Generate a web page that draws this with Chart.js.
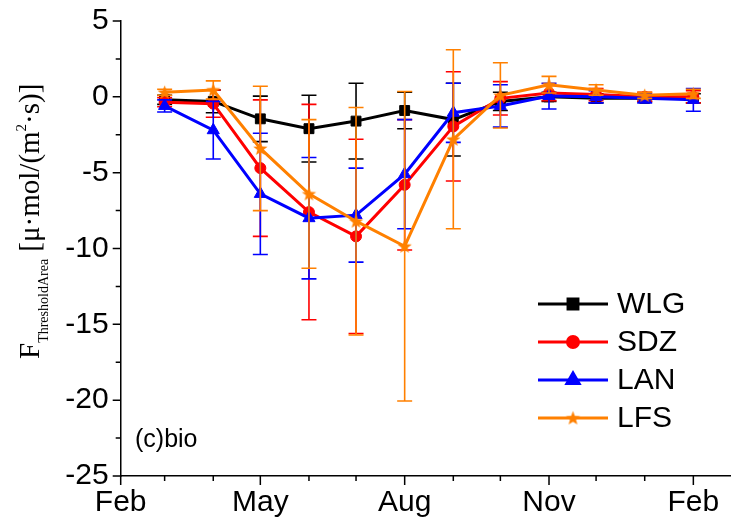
<!DOCTYPE html>
<html>
<head>
<meta charset="utf-8">
<script src="https://cdn.jsdelivr.net/npm/chart.js@4.4.1/dist/chart.umd.min.js"></script>
<style>
  html, body { margin: 0; padding: 0; background: #fff; }
  #wrap { position: relative; width: 731px; height: 527px; }
  #chart { position: absolute; left: 0; top: 0; }
  #ytitle {
    position: absolute; left: 15px; top: 359px;
    transform: rotate(-90deg); transform-origin: left top;
    font-family: 'Liberation Serif', 'DejaVu Serif', serif; font-size: 29px;
    line-height: 1; white-space: nowrap; color: #000;
  }
  #ytitle sub { font-size: 14px; line-height: 0; vertical-align: -9px; }
  #ytitle sup { font-size: 15px; line-height: 0; vertical-align: 13px; }
</style>
</head>
<body>
<div id="wrap">
  <canvas id="chart" width="731" height="527"></canvas>
  <div id="ytitle">F<sub>ThresholdArea</sub> [μ·mol/(m<sup>2</sup>·s)]</div>
</div>
<script>
// days counted from 1 Feb; one point per month start (Mar .. next Feb)
const pointDays = [28, 59, 89, 120, 150, 181, 212, 242, 273, 303, 334, 365];
const tickDays = [0, 28, 59, 89, 120, 150, 181, 212, 242, 273, 303, 334, 365];
const tickLabels = ['Feb', '', '', 'May', '', '', 'Aug', '', '', 'Nov', '', '', 'Feb'];

const wlg = [-0.2, -0.3, -1.45, -2.1, -1.6, -0.9, -1.5, -0.3, 0.0, -0.1, -0.1, -0.1];
const wlgErr = [0.3, 0.75, 1.5, 2.2, 2.5, 1.2, 2.4, 0.6, 0.3, 0.3, 0.2, 0.3];
const sdz = [-0.35, -0.45, -4.7, -7.6, -9.2, -5.8, -1.95, -0.1, 0.25, 0.15, 0.0, 0.0];
const sdzErr = [0.3, 0.9, 4.5, 7.1, 6.4, 4.3, 3.6, 1.1, 0.5, 0.4, 0.3, 0.4];
const lan = [-0.6, -2.2, -6.4, -8.0, -7.8, -5.1, -1.05, -0.6, 0.05, 0.0, -0.1, -0.2];
const lanErr = [0.4, 1.9, 4.0, 4.0, 3.1, 3.6, 1.95, 1.4, 0.85, 0.4, 0.3, 0.75];
const lfs = [0.3, 0.45, -3.4, -6.4, -8.2, -9.85, -2.8, 0.1, 0.8, 0.45, 0.1, 0.2];
const lfsErr = [0.2, 0.6, 4.1, 4.9, 7.5, 10.2, 5.9, 2.15, 0.55, 0.35, 0.2, 0.3];

const ORANGE = '#ff8000';

// filled five point star for LFS
function makeStar(color, r) {
    const c = document.createElement('canvas');
    const s = Math.ceil(r * 2 + 2);
    c.width = s; c.height = s;
    const g = c.getContext('2d');
    g.beginPath();
    for (let i = 0; i < 10; i++) {
        const rad = i % 2 === 0 ? r : r * 0.42;
        const a = -Math.PI / 2 + i * Math.PI / 5;
        g.lineTo(s / 2 + rad * Math.cos(a), s / 2 + 0.5 + rad * Math.sin(a));
    }
    g.closePath();
    g.fillStyle = color;
    g.fill();
    return c;
}
const starImg = makeStar(ORANGE, 7.5);

function series(label, vals, errs, color, style, radius, order) {
    return {
        label: label,
        data: pointDays.map((d, i) => ({ x: d, y: vals[i] })),
        errors: errs,
        borderColor: color,
        backgroundColor: color,
        borderWidth: 3,
        pointStyle: style,
        pointRadius: radius,
        pointBorderWidth: 1,
        pointBackgroundColor: color,
        pointBorderColor: color,
        tension: 0,
        order: order
    };
}

// error bars drawn under each series
const errorBars = {
    id: 'errorBars',
    beforeDatasetDraw(chart, args) {
        const ds = chart.data.datasets[args.index];
        if (!ds.errors) return;
        const { ctx, scales: { x, y } } = chart;
        ctx.save();
        ctx.strokeStyle = ds.borderColor;
        ctx.lineWidth = 1.6;
        ds.data.forEach((p, i) => {
            const px = x.getPixelForValue(p.x);
            const top = y.getPixelForValue(p.y + ds.errors[i]);
            const bot = y.getPixelForValue(p.y - ds.errors[i]);
            ctx.beginPath();
            ctx.moveTo(px, top); ctx.lineTo(px, bot);
            ctx.moveTo(px - 7.5, top); ctx.lineTo(px + 7.5, top);
            ctx.moveTo(px - 7.5, bot); ctx.lineTo(px + 7.5, bot);
            ctx.stroke();
        });
        ctx.restore();
    }
};

// outward tick marks, major long and minor short
const tickMarks = {
    id: 'tickMarks',
    afterDraw(chart) {
        const { ctx, chartArea, scales: { x, y } } = chart;
        ctx.save();
        ctx.strokeStyle = '#000';
        ctx.lineWidth = 1.5;
        ctx.beginPath();
        tickDays.forEach((d, i) => {
            const px = x.getPixelForValue(d);
            const len = tickLabels[i] ? 9 : 5;
            ctx.moveTo(px, chartArea.bottom); ctx.lineTo(px, chartArea.bottom + len);
        });
        for (let v = y.min; v <= y.max + 0.001; v += 2.5) {
            const py = y.getPixelForValue(v);
            const len = Math.abs(v % 5) < 0.001 ? 8 : 5;
            ctx.moveTo(chartArea.left, py); ctx.lineTo(chartArea.left - len, py);
        }
        ctx.stroke();

        // panel tag
        ctx.fillStyle = '#000';
        ctx.font = '25px "Liberation Sans", Arial, sans-serif';
        ctx.textBaseline = 'middle';
        ctx.textAlign = 'left';
        ctx.fillText('(c)bio', 135, 440);

        // legend: line with marker in the middle
        chart.data.datasets.forEach((ds, i) => {
            const ly = 304 + i * 38;
            ctx.strokeStyle = ds.borderColor;
            ctx.lineWidth = 3;
            ctx.beginPath();
            ctx.moveTo(538, ly); ctx.lineTo(608, ly);
            ctx.stroke();
            ctx.fillStyle = ds.borderColor;
            Chart.helpers.drawPoint(ctx, {
                pointStyle: ds.pointStyle, radius: ds.pointRadius, rotation: 0, borderWidth: 1
            }, 573, ly);
            ctx.fillStyle = '#000';
            ctx.font = '30px "Liberation Sans", Arial, sans-serif';
            ctx.fillText(ds.label, 617, ly + 1);
        });
        ctx.restore();
    }
};

const axisFont = { family: '"Liberation Sans", Arial, sans-serif', size: 30 };

new Chart(document.getElementById('chart'), {
    type: 'line',
    data: {
        datasets: [
            series('WLG', wlg, wlgErr, '#000000', 'rect', 7, 4),
            series('SDZ', sdz, sdzErr, '#ff0000', 'circle', 5.5, 3),
            series('LAN', lan, lanErr, '#0000ff', 'triangle', 7, 2),
            series('LFS', lfs, lfsErr, ORANGE, starImg, 7.5, 1)
        ]
    },
    options: {
        responsive: false,
        animation: false,
        layout: { autoPadding: false, padding: { top: 21, right: 0, left: 0, bottom: 0 } },
        plugins: { legend: { display: false }, tooltip: { enabled: false } },
        scales: {
            x: {
                type: 'linear',
                min: 0,
                max: 389,
                afterBuildTicks: (scale) => { scale.ticks = tickDays.map(v => ({ value: v })); },
                afterFit: (scale) => {
                    scale.height = 51;
                    scale.paddingLeft = 0; scale.paddingRight = 0;
                },
                grid: { display: false, drawTicks: false },
                border: { display: true, color: '#000', width: 1.5 },
                ticks: {
                    autoSkip: false, maxRotation: 0, padding: 9,
                    color: '#000', font: axisFont,
                    callback: (v) => tickLabels[tickDays.indexOf(v)]
                }
            },
            y: {
                min: -25,
                max: 5,
                afterFit: (scale) => {
                    scale.width = 120.7;
                    scale.paddingTop = 0; scale.paddingBottom = 0;
                },
                grid: { display: false, drawTicks: false },
                border: { display: true, color: '#000', width: 1.5 },
                ticks: { stepSize: 5, padding: 12, color: '#000', font: axisFont }
            }
        }
    },
    plugins: [errorBars, tickMarks]
});
</script>
</body>
</html>
